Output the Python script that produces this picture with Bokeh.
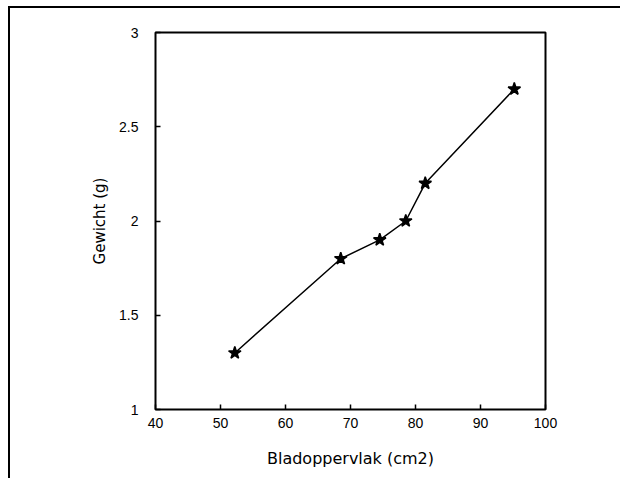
from bokeh.plotting import figure
from bokeh.embed import file_html
from bokeh.resources import INLINE
from bokeh.models import FixedTicker, Range1d

# Data
leaf_area = [52.2, 68.5, 74.5, 78.5, 81.5, 95.2]   # Bladoppervlak (cm2)
weight = [1.30, 1.80, 1.90, 2.00, 2.20, 2.70]       # Gewicht (g)
x_ticks = [40, 50, 60, 70, 80, 90, 100]
y_ticks = [1, 1.5, 2, 2.5, 3]
y_tick_labels = {1: "1", 1.5: "1.5", 2: "2", 2.5: "2.5", 3: "3"}

TICK_FONT = "Liberation Sans"
LABEL_FONT = "DejaVu Sans"

p = figure(width=612, height=472, output_backend="svg", toolbar_location=None,
           x_range=Range1d(40, 100), y_range=Range1d(1, 3),
           min_border_left=145, min_border_right=77,
           min_border_top=24, min_border_bottom=71)
p.styles = {"border-left": "2px solid black", "border-top": "2px solid black",
            "margin-left": "8px", "margin-top": "6px"}

p.grid.visible = False
p.outline_line_color = "black"
p.outline_line_width = 2
p.background_fill_color = "white"
p.border_fill_color = "white"

for ax in (p.xaxis[0], p.yaxis[0]):
    ax.axis_line_color = None
    ax.major_tick_in = 5
    ax.major_tick_out = 0
    ax.minor_tick_line_color = None
    ax.major_tick_line_color = "black"
    ax.major_tick_line_width = 1.5
    ax.major_label_text_font = TICK_FONT
    ax.major_label_text_font_size = "14px"
    ax.major_label_text_color = "black"
    ax.axis_label_text_font = LABEL_FONT
    ax.axis_label_text_font_size = "15px"
    ax.axis_label_text_font_style = "normal"
    ax.axis_label_text_color = "black"

p.xaxis.axis_label_text_font_size = "16px"
p.xaxis.ticker = FixedTicker(ticks=x_ticks)
p.yaxis.ticker = FixedTicker(ticks=y_ticks)
p.yaxis.major_label_overrides = y_tick_labels
p.xaxis.major_label_standoff = 8
p.yaxis.major_label_standoff = 17
p.xaxis.axis_label = "Bladoppervlak (cm2)"
p.yaxis.axis_label = "Gewicht (g)"
p.xaxis.axis_label_standoff = 18
p.yaxis.axis_label_standoff = 7

p.line(leaf_area, weight, line_color="black", line_width=1.5)
p.scatter(leaf_area, weight, marker="star", size=13, fill_color="black",
          line_color="black", line_width=1.5)

open("out.html", "w").write(file_html(p, INLINE))
